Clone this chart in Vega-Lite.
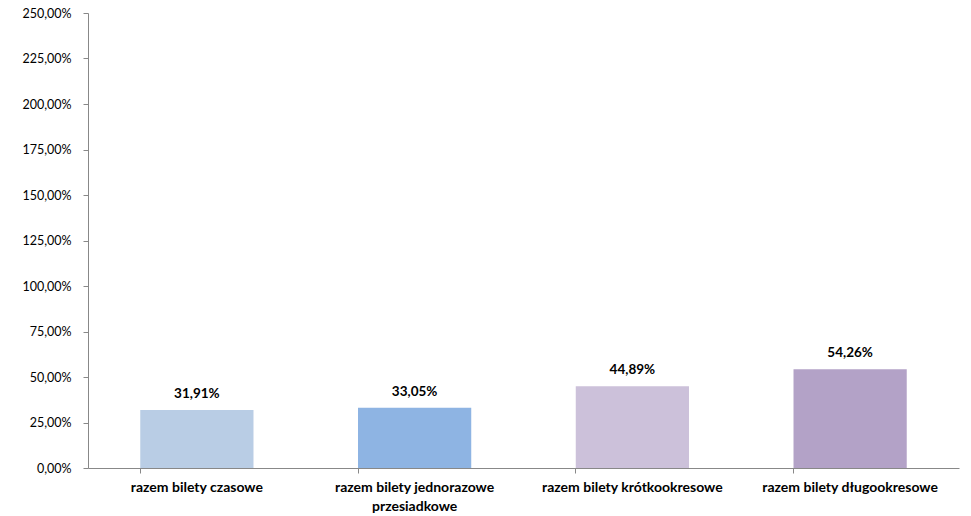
{
  "$schema": "https://vega.github.io/schema/vega-lite/v6.json",
  "width": 871,
  "height": 455,
  "autosize": {"type": "none"},
  "padding": {"left": 88, "top": 13, "right": 12, "bottom": 48},
  "config": {
    "view": {"stroke": null},
    "locale": {"number": {"decimal": ",", "thousands": " ", "grouping": [3], "currency": ["", " zł"]}},
    "font": "Lato"
  },
  "data": {
    "values": [
      {"kategoria": "razem bilety czasowe", "wartosc": 0.3191, "kolor": "#B9CDE5"},
      {"kategoria": "razem bilety jednorazowe przesiadkowe", "wartosc": 0.3305, "kolor": "#8EB4E3"},
      {"kategoria": "razem bilety krótkookresowe", "wartosc": 0.4489, "kolor": "#CCC1DA"},
      {"kategoria": "razem bilety długookresowe", "wartosc": 0.5426, "kolor": "#B3A2C7"}
    ]
  },
  "encoding": {
    "x": {
      "field": "kategoria",
      "type": "nominal",
      "sort": null,
      "scale": {"paddingInner": 0.48, "paddingOuter": 0.24},
      "axis": {
        "title": null,
        "labelAngle": 0,
        "bandPosition": 0,
        "labelFontWeight": "bold",
        "labelFontSize": 14,
        "labelColor": "#000000",
        "labelPadding": 7,
        "labelLimit": 300,
        "labelLineHeight": 19,
        "labelBaseline": "top",
        "domainColor": "#888888",
        "tickColor": "#888888",
        "tickSize": 5,
        "labelExpr": "datum.label == 'razem bilety jednorazowe przesiadkowe' ? ['razem bilety jednorazowe', 'przesiadkowe'] : datum.label"
      }
    },
    "y": {
      "field": "wartosc",
      "type": "quantitative",
      "scale": {"domain": [0, 2.5], "nice": false},
      "axis": {
        "title": null,
        "format": ".2%",
        "values": [0, 0.25, 0.5, 0.75, 1, 1.25, 1.5, 1.75, 2, 2.25, 2.5],
        "grid": false,
        "labelFontSize": 12.5,
        "labelColor": "#000000",
        "labelPadding": 12,
        "domainColor": "#888888",
        "tickColor": "#888888",
        "tickSize": 5
      }
    }
  },
  "layer": [
    {
      "mark": {"type": "bar"},
      "encoding": {
        "color": {"field": "kolor", "type": "nominal", "scale": null}
      }
    },
    {
      "mark": {"type": "text", "baseline": "bottom", "dy": -9, "fontWeight": "bold", "fontSize": 13.5, "color": "#000000"},
      "encoding": {
        "text": {"field": "wartosc", "type": "quantitative", "format": ".2%"}
      }
    }
  ]
}
